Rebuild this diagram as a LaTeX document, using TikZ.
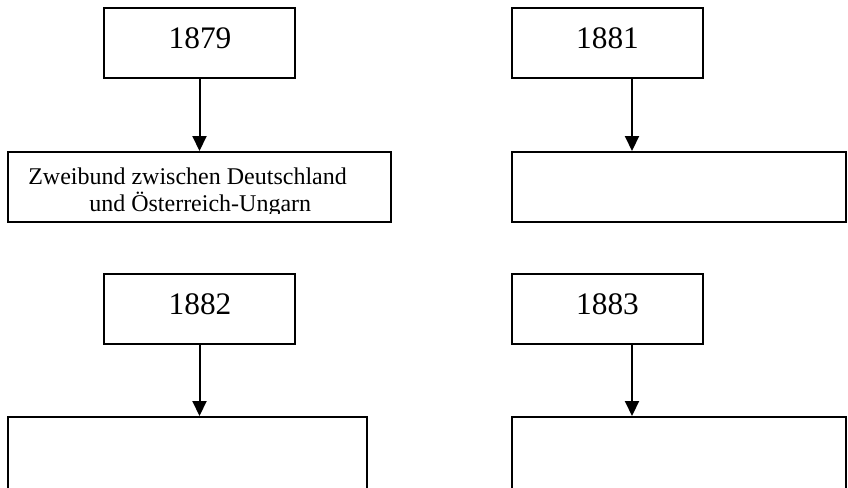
\documentclass[tikz,border=0pt]{standalone}
\usepackage{fontspec}
\setmainfont{Liberation Serif}
\usetikzlibrary{arrows.meta}
\begin{document}
\begin{tikzpicture}[x=0.75pt,y=-0.75pt,
  box/.style={draw, line width=1.5pt, rectangle, inner sep=0pt},
  yearbox/.style={box, minimum width=143.25pt, minimum height=52.5pt},
  year/.style={font=\fontsize{23.5}{28}\selectfont, anchor=base, inner sep=0pt},
  entry/.style={font=\fontsize{18}{21}\selectfont, anchor=base west, inner sep=0pt},
  arr/.style={line width=1.5pt, -{Triangle[length=11.25pt,width=10.5pt]}},
]
\useasboundingbox (0,0) rectangle (848,487);
\clip (0,0) rectangle (848,487);

% year boxes
\node[yearbox] (t1) at (199.5,43) {};
\node[yearbox] (t2) at (607,43) {};
\node[yearbox] (t3) at (199.5,309) {};
\node[yearbox] (t4) at (607,309) {};

\node[year] (y1) at (200,48) {1879};
\node[year] (y2) at (607.5,48) {1881};
\node[year] (y3) at (200,314) {1882};
\node[year] (y4) at (607.5,314) {1883};

% result boxes
\node[box, minimum width=287.25pt, minimum height=52.5pt] (b1) at (199.5,187) {};
\node[box, minimum width=250.5pt, minimum height=52.5pt] (b2) at (679,187) {};
\node[box, minimum width=269.25pt, minimum height=75pt] (b3) at (187.5,467) {};
\node[box, minimum width=250.5pt, minimum height=75pt] (b4) at (679,467) {};

% text of the first result box, cut off above its lower border
\begin{scope}
  \clip (0,0) rectangle (848,213.5);
  \node[entry] (e1) at (28,184) {Zweibund zwischen Deutschland};
  \node[entry] (e2) at (89,211) {und Österreich-Ungarn};
\end{scope}

% connectors
\draw[arr] (t1.south) -- (t1.south |- b1.north);
\draw[arr] ([xshift=18.75pt]t2.south) -- ([xshift=18.75pt]t2.south |- b2.north);
\draw[arr] (t3.south) -- (t3.south |- b3.north);
\draw[arr] ([xshift=18.75pt]t4.south) -- ([xshift=18.75pt]t4.south |- b4.north);
\end{tikzpicture}
\end{document}
